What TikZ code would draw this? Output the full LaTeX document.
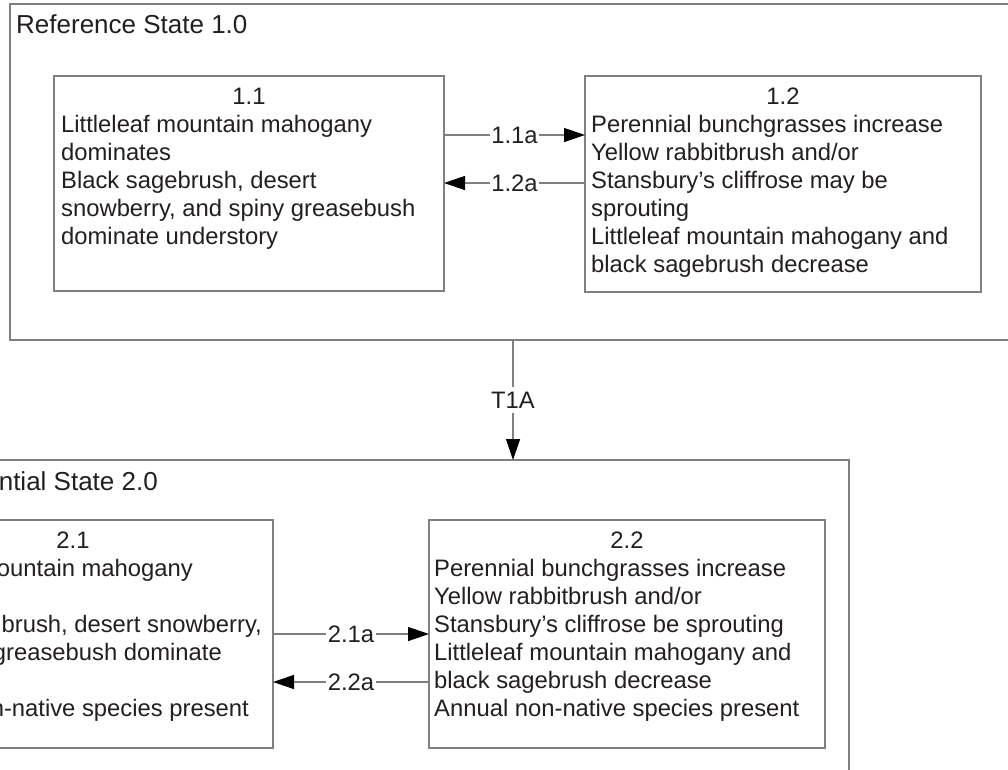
\documentclass[tikz,border=0pt]{standalone}
\usepackage{fontspec}
\setmainfont{Liberation Sans}
\usetikzlibrary{arrows.meta}
\definecolor{ln}{HTML}{808080}
\definecolor{tx}{HTML}{231F20}
\begin{document}
\begin{tikzpicture}[x=1pt,y=-1pt,
  box/.style={draw=ln,line width=1.3pt,rectangle,inner sep=0pt,outer sep=0pt},
  txt/.style={text=tx,font=\fontsize{23.8}{28}\selectfont,inner sep=0pt,anchor=base west},
  txte/.style={txt,anchor=base east},
  txtc/.style={txt,anchor=base},
  ttl/.style={text=tx,font=\fontsize{26}{30}\selectfont,inner sep=0pt,anchor=base west},
  arr/.style={draw=ln,line width=1.3pt,-{Triangle[length=21pt,width=14pt,color=black]}},
  lbl/.style={fill=white,text=tx,font=\fontsize{23.8}{28}\selectfont,inner xsep=1.5pt,inner ysep=5pt}]
\useasboundingbox (0,0) rectangle (1008,769);
\clip (0,0) rectangle (1008,769);
\fill[white] (0,0) rectangle (1008,769);

% outer state boxes
\node[box,minimum width=1010,minimum height=336] (s1) at (515,172) {};
\node[box,minimum width=949,minimum height=400] (s2) at (374.5,660) {};
\node[ttl] (t1) at (16,33) {Reference State 1.0};
\node[ttl,anchor=base east] (t2) at (158,490) {ntial State 2.0};

% community phase boxes
\node[box,minimum width=390,minimum height=215] (b11) at (249,183.5) {};
\node[box,minimum width=396,minimum height=216] (b12) at (783,184) {};
\node[box,minimum width=400,minimum height=228] (b21) at (73,634) {};
\node[box,minimum width=396,minimum height=228] (b22) at (627,634) {};

% box 1.1 text
\node[txtc] (h11) at (249,104) {1.1};
\node[txt] (a1) at (61,132) {Littleleaf mountain mahogany};
\node[txt] (a2) at (61,160) {dominates};
\node[txt] (a3) at (61,188) {Black sagebrush, desert};
\node[txt] (a4) at (61,216) {snowberry, and spiny greasebush};
\node[txt] (a5) at (61,244) {dominate understory};

% box 1.2 text
\node[txtc] (h12) at (783,104) {1.2};
\node[txt] (c1) at (591,132) {Perennial bunchgrasses increase};
\node[txt] (c2) at (591,160) {Yellow rabbitbrush and/or};
\node[txt] (c3) at (591,188) {Stansbury’s cliffrose may be};
\node[txt] (c4) at (591,216) {sprouting};
\node[txt] (c5) at (591,244) {Littleleaf mountain mahogany and};
\node[txt] (c6) at (591,272) {black sagebrush decrease};

% box 2.1 text (cut by the left edge)
\node[txtc] (h21) at (73,548) {2.1};
\node[txte] (d1) at (193,576) {ountain mahogany};
\node[txte] (d3) at (262,632) {brush, desert snowberry,};
\node[txte] (d4) at (222,660) {greasebush dominate};
\node[txte] (d6) at (249,716) {n-native species present};

% box 2.2 text
\node[txtc] (h22) at (627,548) {2.2};
\node[txt] (e1) at (434,576) {Perennial bunchgrasses increase};
\node[txt] (e2) at (434,604) {Yellow rabbitbrush and/or};
\node[txt] (e3) at (434,632) {Stansbury’s cliffrose be sprouting};
\node[txt] (e4) at (434,660) {Littleleaf mountain mahogany and};
\node[txt] (e5) at (434,688) {black sagebrush decrease};
\node[txt] (e6) at (434,716) {Annual non-native species present};

% transitions
\draw[arr] (b11.east |- 0,135) -- node[lbl] (l11a) {1.1a} (b12.west |- 0,135);
\draw[arr] (b12.west |- 0,183) -- node[lbl] (l12a) {1.2a} (b11.east |- 0,183);
\draw[arr] (s1.south -| 513,0) -- node[lbl] (lt1a) {T1A} (s2.north -| 513,0);
\draw[arr] (b21.east |- 0,634) -- node[lbl] (l21a) {2.1a} (b22.west |- 0,634);
\draw[arr] (b22.west |- 0,682) -- node[lbl] (l22a) {2.2a} (b21.east |- 0,682);
\end{tikzpicture}
\end{document}
